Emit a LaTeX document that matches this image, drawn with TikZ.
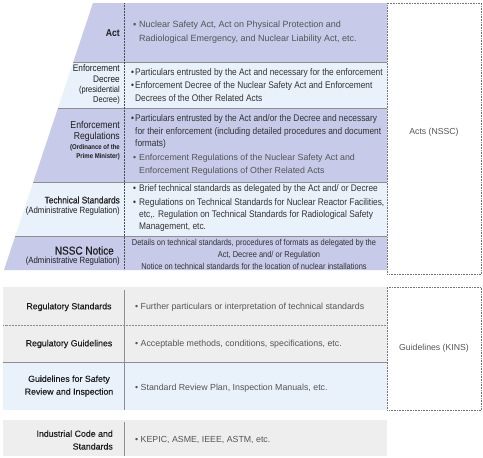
\documentclass[tikz,border=0pt]{standalone}
\usepackage{fontspec}
\setmainfont{Liberation Sans}
\newfontfamily\cond{Liberation Sans}[FakeStretch=0.87]
\newfontfamily\condsb{Liberation Sans}[FakeStretch=0.87,FakeBold=0.35]
\newfontfamily\semib{Liberation Sans}[FakeBold=0.35]
\definecolor{lav}{HTML}{C7CAE8}
\definecolor{lblue}{HTML}{E9F1FA}
\definecolor{lgray}{HTML}{EEEEEE}
\definecolor{divc}{HTML}{8E8E8E}
\definecolor{bodyc}{HTML}{333333}
\definecolor{softc}{HTML}{555555}
\definecolor{lblc}{HTML}{1E1E1E}
\newcommand{\bul}[2][6pt]{\makebox[#1][l]{#2}}
\newcommand{\ind}[1][6pt]{\hspace*{#1}}
\begin{document}
\begin{tikzpicture}[x=1pt,y=-1pt,
  body/.style={anchor=north west, inner sep=0pt, align=left, text=bodyc, font=\cond\fontsize{9.6}{12.5}\selectfont},
  rbody/.style={anchor=west, inner sep=0pt, align=left, text=softc, font=\fontsize{8.8}{12.5}\selectfont},
  lbl/.style={anchor=east, inner sep=0pt, align=right, text=lblc},
  clbl/.style={anchor=center, inner sep=0pt, align=center, text=lblc},
  divline/.style={draw=divc, line width=0.6pt},
  vdot/.style={draw=black!70, line width=0.5pt, dash pattern=on 0.7pt off 0.8pt},
  hdot/.style={draw=black!45, line width=0.5pt, dash pattern=on 0.7pt off 0.8pt},
  dbox/.style={draw=black!55, line width=0.6pt, dash pattern=on 0.8pt off 0.8pt, inner sep=0pt, anchor=north west},
  side/.style={inner sep=0pt, text=softc, font=\fontsize{8.7}{10}\selectfont}
]
\useasboundingbox (0,0) rectangle (483,458);
\fill[white] (0,0) rectangle (483,458);

% ---------- pyramid rows ----------
\fill[lav]   (93,3) -- (387,3) -- (387,62) -- (73.3,62) -- cycle;
\fill[lblue] (73.3,62) -- (387,62) -- (387,108) -- (58,108) -- cycle;
\fill[lav]   (58,108) -- (387,108) -- (387,182) -- (33.3,182) -- cycle;
\fill[lblue] (33.3,182) -- (387,182) -- (387,236) -- (15.3,236) -- cycle;
\fill[lav]   (15.3,236) -- (387,236) -- (387,270) -- (4,270) -- cycle;
\draw[divline] (73.3,62) -- (387,62);
\draw[divline] (58,108) -- (387,108);
\draw[divline] (33.3,182) -- (387,182);
\draw[divline] (15.3,236) -- (387,236);
\draw[vdot] (124,3) -- (124,270);

% labels
\node[lbl, font=\cond\bfseries\fontsize{10}{11}\selectfont] (lact) at (120,33) {Act};
\node[lbl, font=\cond\fontsize{9.5}{11}\selectfont] (ldec1) at (120,74) {Enforcement\\Decree};
\node[lbl, font=\cond\fontsize{8.6}{10.5}\selectfont] (ldec2) at (120,95.5) {(presidential\\Decree)};
\node[lbl, font=\cond\fontsize{10}{11}\selectfont] (lreg1) at (120,131) {Enforcement\\Regulations};
\node[lbl, font=\cond\bfseries\fontsize{6.9}{9}\selectfont] (lreg2) at (120,152.5) {(Ordinance of the\\Prime Minister)};
\node[lbl, font=\condsb\fontsize{9.6}{11}\selectfont] (ltech1) at (120,200) {Technical Standards};
\node[lbl, font=\cond\fontsize{9}{9}\selectfont] (ltech2) at (120,211) {(Administrative Regulation)};
\node[lbl, font=\condsb\fontsize{11.5}{11}\selectfont] (lnssc1) at (114,250.5) {NSSC Notice};
\node[lbl, font=\cond\fontsize{9}{9}\selectfont] (lnssc2) at (120,261) {(Administrative Regulation)};

% texts
\node[body, text=softc, font=\fontsize{9}{14}\selectfont] (tact) at (133,20.8)
  {\bul{▪}Nuclear Safety Act, Act on Physical Protection and\\\ind Radiological Emergency, and Nuclear Liability Act, etc.};
\node[body] (tdec1) at (131,68.5)
  {\bul[4pt]{•}Particulars entrusted by the Act and necessary for the enforcement};
\node[body] (tdec2) at (131,81.5)
  {\bul[4pt]{•}Enforcement Decree of the Nuclear Safety Act and Enforcement\\\ind[4pt]Decrees of the Other Related Acts};
\node[body] (treg1) at (131,114.5)
  {\bul[4pt]{•}Particulars entrusted by the Act and/or the Decree and necessary\\\ind[4pt]for their enforcement (including detailed procedures and document\\\ind[4pt]formats)};
\node[body, text=softc, font=\fontsize{8.8}{13}\selectfont] (treg2) at (133,153.8)
  {\bul{•}Enforcement Regulations of the Nuclear Safety Act and\\\ind Enforcement Regulations of Other Related Acts};
\node[body] (ttech1) at (133,184.5)
  {\bul{•}Brief technical standards as delegated by the Act and/ or Decree};
\node[body, font=\cond\fontsize{9.6}{12}\selectfont] (ttech2) at (133,198.5)
  {\bul{•}Regulations on Technical Standards for Nuclear Reactor Facilities,\\\ind etc,. Regulation on Technical Standards for Radiological Safety\\\ind Management, etc.};
\node[inner sep=0pt, align=center, text=bodyc, font=\cond\fontsize{8.6}{12}\selectfont] (tnssc) at (254,254)
  {Details on technical standards, procedures of formats as delegated by the\\\hspace*{30pt}Act, Decree and/ or Regulation\\Notice on technical standards for the location of nuclear installations};

% side box (acts)
\node[dbox, minimum width=94pt, minimum height=271pt] (actsbox) at (387,3) {};
\node[side] (actslbl) at (434,132) {Acts (NSSC)};

% ---------- guidelines block ----------
\fill[lgray] (3,287) rectangle (387,362);
\fill[lblue] (3,362) rectangle (387,410);
\draw[hdot] (3,325) -- (387,325);
\draw[divline] (3,362) -- (387,362);
\draw[divline] (124,290) -- (124,410);

\node[clbl, font=\semib\fontsize{8.8}{12.8}\selectfont] (lrs) at (69,307) {Regulatory Standards};
\node[clbl, font=\semib\fontsize{8.8}{12.8}\selectfont] (lrg) at (69,344) {Regulatory Guidelines};
\node[clbl, font=\semib\fontsize{8.8}{12.8}\selectfont] (lgs) at (69,386) {Guidelines for Safety\\Review and Inspection};

\node[rbody] (trs) at (135,307) {• Further particulars or interpretation of technical standards};
\node[rbody] (trg) at (135,344) {• Acceptable methods, conditions, specifications, etc.};
\node[rbody] (tgs) at (135,388) {• Standard Review Plan, Inspection Manuals, etc.};

\node[dbox, minimum width=94pt, minimum height=123pt] (kinsbox) at (387,287) {};
\node[side] (kinslbl) at (434,348) {Guidelines (KINS)};

% ---------- industrial ----------
\fill[lgray] (3,420) rectangle (387,456);
\draw[divline] (124,422) -- (124,456);
\node[lbl, font=\semib\fontsize{8.8}{12.8}\selectfont] (lind) at (113,440) {Industrial Code and\\Standards};
\node[rbody] (tind) at (135,440) {• KEPIC, ASME, IEEE, ASTM, etc.};
\end{tikzpicture}
\end{document}
